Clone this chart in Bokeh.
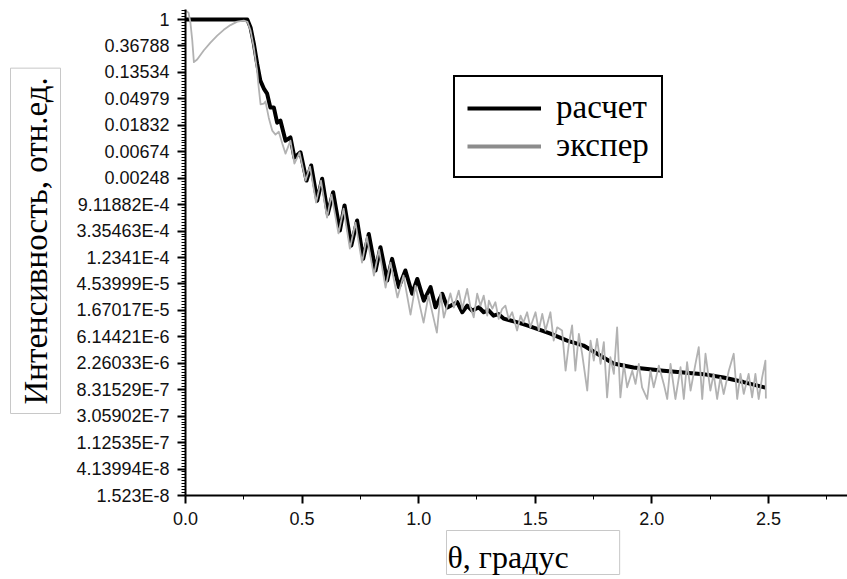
import numpy as np
from bokeh.plotting import figure
from bokeh.models import Range1d, FixedTicker, Title, Legend, LegendItem
from bokeh.embed import file_html
from bokeh.resources import INLINE

# ---- data (theta in degrees, natural log of intensity) ----
theta_calc = [0.000, 0.265, 0.279, 0.293, 0.307, 0.321, 0.336, 0.350, 0.364, 0.379,
              0.393, 0.407, 0.429, 0.450, 0.467, 0.493, 0.519, 0.539, 0.565, 0.586,
              0.610, 0.633, 0.662, 0.682, 0.711, 0.736, 0.762, 0.786, 0.815, 0.836,
              0.865, 0.886, 0.915, 0.943, 0.972, 0.994, 1.022, 1.051, 1.072, 1.101,
              1.123, 1.165, 1.187, 1.208, 1.229, 1.258, 1.279, 1.299, 1.321, 1.342,
              1.364, 1.394, 1.428, 1.465, 1.514, 1.565, 1.637, 1.707, 1.771, 1.835,
              1.921, 2.050, 2.135, 2.221, 2.307, 2.393, 2.487]
lnI_calc = [0.00, 0.00, -0.30, -0.91, -1.66, -2.31, -2.61, -2.80, -3.33, -3.33,
            -3.90, -3.82, -4.58, -4.46, -5.22, -5.02, -6.09, -5.52, -6.85, -6.02,
            -7.35, -6.53, -7.98, -7.03, -8.55, -7.60, -9.05, -8.11, -9.49, -8.61,
            -9.87, -9.05, -10.12, -9.49, -10.37, -9.81, -10.63, -10.12, -10.88, -10.37,
            -10.89, -10.69, -11.07, -10.82, -11.01, -10.88, -11.07, -10.99, -11.20, -11.14,
            -11.31, -11.38, -11.46, -11.57, -11.72, -11.88, -12.14, -12.33, -12.67, -13.01,
            -13.16, -13.28, -13.35, -13.41, -13.54, -13.71, -13.92]

theta_exp = [0.000, 0.013, 0.021, 0.029, 0.036, 0.050, 0.078, 0.107, 0.136, 0.164,
             0.193, 0.222, 0.250, 0.266, 0.279, 0.293, 0.307, 0.314, 0.322, 0.336,
             0.343, 0.357, 0.372, 0.386, 0.400, 0.415, 0.429, 0.450, 0.467, 0.489,
             0.515, 0.534, 0.560, 0.581, 0.607, 0.626, 0.656, 0.678, 0.705, 0.729,
             0.757, 0.778, 0.808, 0.830, 0.858, 0.879, 0.909, 0.935, 0.965, 0.986,
             1.021, 1.042, 1.078, 1.094, 1.108, 1.136, 1.151, 1.172, 1.187, 1.208,
             1.222, 1.236, 1.251, 1.265, 1.279, 1.294, 1.301, 1.316, 1.329, 1.343,
             1.358, 1.372, 1.386, 1.401, 1.422, 1.437, 1.449, 1.465, 1.479, 1.501,
             1.515, 1.530, 1.544, 1.565, 1.579, 1.594, 1.615, 1.630, 1.644, 1.658,
             1.672, 1.687, 1.701, 1.723, 1.737, 1.751, 1.765, 1.780, 1.794, 1.808,
             1.822, 1.837, 1.851, 1.865, 1.880, 1.894, 1.916, 1.930, 1.944, 1.958,
             1.980, 1.994, 2.008, 2.030, 2.051, 2.066, 2.080, 2.101, 2.123, 2.137,
             2.151, 2.166, 2.187, 2.201, 2.216, 2.230, 2.251, 2.265, 2.280, 2.294,
             2.308, 2.330, 2.351, 2.366, 2.380, 2.394, 2.415, 2.430, 2.444, 2.458,
             2.473, 2.487, 2.489]
lnI_exp = [0.34, 0.26, -0.11, -0.79, -1.61, -1.51, -1.17, -0.87, -0.61, -0.39,
           -0.21, -0.08, -0.04, -0.09, -0.42, -1.06, -1.93, -2.57, -3.21, -3.18,
           -3.10, -3.71, -4.20, -4.35, -4.24, -4.69, -5.07, -4.58, -5.45, -5.03,
           -6.09, -5.56, -6.92, -6.09, -7.49, -6.62, -8.09, -7.15, -8.66, -7.68,
           -9.19, -8.21, -9.68, -8.70, -10.14, -9.19, -10.51, -9.68, -11.16, -10.06,
           -11.46, -10.44, -11.84, -10.36, -11.27, -10.36, -10.89, -10.25, -10.94, -10.19,
           -10.88, -11.26, -10.37, -10.82, -10.44, -11.20, -10.63, -10.93, -10.69, -11.32,
           -10.94, -10.82, -11.32, -11.07, -11.76, -11.20, -11.46, -11.07, -11.64, -11.07,
           -11.76, -11.13, -11.76, -11.07, -12.14, -11.64, -11.76, -13.28, -12.27, -11.57,
           -13.28, -11.89, -12.64, -14.03, -12.14, -12.90, -12.08, -13.02, -12.20, -14.29,
           -12.77, -13.40, -11.64, -14.29, -13.02, -13.91, -13.28, -13.78, -13.02, -13.91,
           -14.35, -13.28, -13.91, -13.09, -13.78, -14.35, -13.02, -14.35, -13.15, -14.35,
           -12.96, -14.03, -13.02, -12.39, -14.35, -12.64, -14.03, -13.40, -14.35, -13.53,
           -14.16, -13.28, -12.64, -14.35, -13.40, -14.16, -13.40, -14.29, -13.40, -14.35,
           -13.53, -12.90, -14.33]

# y ticks at e^0 ... e^-18
ytick_powers = list(range(0, -19, -1))
ytick_labels = ["1", "0.36788", "0.13534", "0.04979", "0.01832", "0.00674", "0.00248",
                "9.11882E-4", "3.35463E-4", "1.2341E-4", "4.53999E-5", "1.67017E-5",
                "6.14421E-6", "2.26033E-6", "8.31529E-7", "3.05902E-7", "1.12535E-7",
                "4.13994E-8", "1.523E-8"]
xtick_values = [0.0, 0.5, 1.0, 1.5, 2.0, 2.5]
xtick_labels = ["0.0", "0.5", "1.0", "1.5", "2.0", "2.5"]
xminor_values = [0.25, 0.75, 1.25, 1.75, 2.25, 2.75]

series_names = ["расчет", "экспер"]
x_title = "θ, градус"
y_title = "Интенсивность, отн.ед."

I_calc = np.exp(np.array(lnI_calc))
I_exp = np.exp(np.array(lnI_exp))

p = figure(width=847, height=579, y_axis_type="log",
           x_range=Range1d(0, 2.839), y_range=Range1d(float(np.exp(-18)), float(np.exp(0.38))),
           output_backend="svg", toolbar_location=None,
           min_border_left=185, min_border_right=0, min_border_top=9, min_border_bottom=84)
p.outline_line_color = None
p.xgrid.visible = False
p.ygrid.visible = False
p.background_fill_color = "white"
p.border_fill_color = "white"

yt = [float(np.exp(k)) for k in ytick_powers]
ym = []
for k in range(0, 18):
    for j in range(1, 9):
        ym.append(float(np.exp(-(k + j / 9.0))))
for j in range(1, 4):
    ym.append(float(np.exp(j / 9.0)))
p.yaxis.ticker = FixedTicker(ticks=yt, minor_ticks=ym)
p.yaxis.major_label_overrides = {t: s for t, s in zip(yt, ytick_labels)}
p.xaxis.ticker = FixedTicker(ticks=xtick_values, minor_ticks=xminor_values)
p.xaxis.major_label_overrides = {t: s for t, s in zip(xtick_values, xtick_labels)}

for ax in (p.xaxis, p.yaxis):
    ax.axis_line_width = 2
    ax.axis_line_color = "black"
    ax.major_tick_out = 8
    ax.major_tick_in = 0
    ax.minor_tick_out = 4
    ax.minor_tick_in = 0
    ax.major_tick_line_width = 2
    ax.minor_tick_line_width = 1
    ax.major_label_text_font = "Liberation Sans"
    ax.major_label_text_font_size = "18px"
    ax.major_label_text_color = "#111111"
    ax.major_label_standoff = 8

r_calc = p.line(theta_calc, I_calc, line_color="black", line_width=4, line_join="round")
r_exp = p.line(theta_exp, I_exp, line_color="#b2b2b2", line_width=1.8, line_join="round")
# same experimental series, hidden, only used for the thicker legend sample
r_exp_key = p.line(theta_exp, I_exp, line_color="#8c8c8c", line_width=4, visible=False)

legend = Legend(items=[LegendItem(label=series_names[0], renderers=[r_calc]),
                       LegendItem(label=series_names[1], renderers=[r_exp_key])],
                location=(268, 317), orientation="vertical",
                border_line_color="black", border_line_width=2, border_line_alpha=1.0,
                background_fill_color="white", background_fill_alpha=1.0,
                inactive_fill_alpha=0.0,
                padding=12, spacing=1, margin=0,
                glyph_width=74, glyph_height=20, label_standoff=15,
                label_text_font="Liberation Serif", label_text_font_size="33px",
                label_text_color="black")
p.add_layout(legend)


def boxed_title(text, size, standoff, **kw):
    t = Title(text=text, text_font="Liberation Serif", text_font_size=size,
              text_color="black", text_font_style="normal", standoff=standoff, **kw)
    t.border_line_color = "#c8c8c8"
    t.border_line_width = 1
    t.background_fill_color = "white"
    return t


ytitle = boxed_title(y_title, "33px", 14, align="left", offset=82, vertical_align="top")
try:
    ytitle.padding = dict(left=9, right=9, top=7, bottom=7)
except Exception:
    pass
p.add_layout(ytitle, "left")

xtitle = boxed_title(x_title, "32px", 6, align="left", vertical_align="top", offset=261)
try:
    xtitle.padding = dict(left=1, right=51, top=8, bottom=0)
except Exception:
    pass
p.add_layout(xtitle, "below")

open("out.html", "w").write(file_html(p, INLINE))
